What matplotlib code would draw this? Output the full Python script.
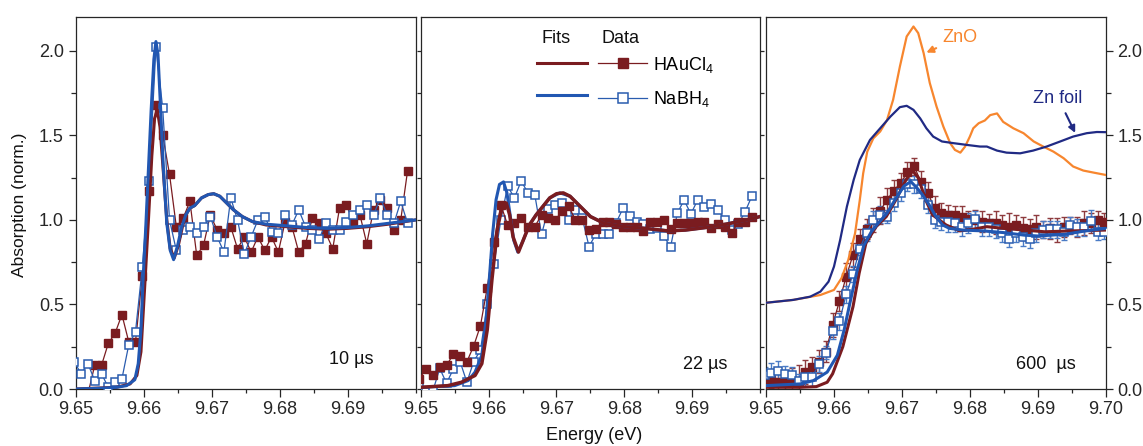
import matplotlib
matplotlib.use("Agg")
import matplotlib.pyplot as plt
from matplotlib.lines import Line2D
from matplotlib.ticker import MultipleLocator

plt.rcParams['font.family'] = ['Liberation Sans', 'DejaVu Sans']
plt.rcParams['mathtext.fontset'] = 'custom'
plt.rcParams['mathtext.rm'] = 'Liberation Sans'
plt.rcParams['mathtext.it'] = 'Liberation Sans:italic'

RED = '#7a1c20'
BLUE = '#2a5caf'
BLUE_FIT = '#2157b2'
ORANGE = '#f7862e'
NAVY = '#202a84'
INK = '#262626'

# energy grid of the measured points (eV)
energy = [9.6498, 9.6508, 9.6518, 9.6528, 9.6538, 9.6548, 9.6558, 9.6568, 9.6578, 9.6588,
          9.6598, 9.6608, 9.6618, 9.6628, 9.6638, 9.6648, 9.6658, 9.6668, 9.6678, 9.6688,
          9.6698, 9.6708, 9.6718, 9.6728, 9.6738, 9.6748, 9.6758, 9.6768, 9.6778, 9.6788,
          9.6798, 9.6808, 9.6818, 9.6828, 9.6838, 9.6848, 9.6858, 9.6868, 9.6878, 9.6888,
          9.6898, 9.6908, 9.6918, 9.6928, 9.6938, 9.6948, 9.6958, 9.6968, 9.6978, 9.6988,
          9.6998]

# ---- 10 us ----
d10_hau = [-0.03, 0.14, 0.14, 0.27, 0.33, 0.44, 0.28, 0.28, 0.67, 1.17,
           1.68, 1.50, 1.27, 0.96, 1.01, 1.11, 0.79, 0.85, 1.03, 0.94,
           0.92, 0.96, 0.83, 0.90, 0.81, 0.90, 0.82, 0.90, 0.81, 0.99,
           0.96, 0.81, 0.86, 1.01, 0.98, 0.92, 0.83, 1.07, 1.09, 0.99,
           1.03, 0.86, 1.06, 1.12, 1.07, 0.94, 1.00, 1.29]          # starts at energy[2]
d10_nab = [0.16, 0.09, 0.15, 0.05, 0.09, 0.01, 0.04, 0.06, 0.26, 0.34,
           0.72, 1.23, 2.02, 1.66, 1.00, 0.82, 0.94, 0.96, 0.92, 0.96,
           1.02, 0.90, 0.81, 1.13, 1.00, 0.80, 0.90, 1.00, 1.02, 0.93,
           0.92, 1.03, 0.97, 1.06, 0.96, 0.94, 0.89, 0.98, 0.94, 0.94,
           0.99, 1.03, 1.06, 1.09, 1.03, 1.13, 1.03, 0.98, 1.11, 0.98]

f10_nab_x = [9.6500, 9.6540, 9.6560, 9.6575, 9.6587, 9.6592, 9.6596, 9.6599, 9.6603, 9.6607,
             9.6611, 9.6615, 9.6618, 9.6621, 9.6625, 9.6629, 9.6634, 9.6639, 9.6644, 9.6650,
             9.6656, 9.6662, 9.6668, 9.6675, 9.6685, 9.6695, 9.6703, 9.6712, 9.6722, 9.6732,
             9.6745, 9.6760, 9.6780, 9.6810, 9.6840, 9.6870, 9.6900, 9.6930, 9.6960, 9.7000]
f10_nab_y = [0.0, 0.005, 0.01, 0.02, 0.055, 0.15, 0.35, 0.64, 0.95, 1.30,
             1.65, 1.95, 2.055, 1.98, 1.65, 1.30, 0.98, 0.82, 0.765, 0.85,
             0.96, 1.03, 1.07, 1.085, 1.13, 1.15, 1.155, 1.14, 1.10, 1.06,
             1.02, 0.99, 0.975, 0.965, 0.955, 0.95, 0.955, 0.965, 0.98, 1.00]
f10_hau_x = [9.6500, 9.6560, 9.6580, 9.6590, 9.6596, 9.6602, 9.6607, 9.6612, 9.6616, 9.6620,
             9.6624, 9.6629, 9.6634, 9.6639, 9.6645, 9.6651, 9.6657, 9.6662, 9.6668, 9.6675,
             9.6685, 9.6695, 9.6703, 9.6712, 9.6722, 9.6732, 9.6745, 9.6760, 9.6780, 9.6810,
             9.6840, 9.6870, 9.6900, 9.6930, 9.6960, 9.7000]
f10_hau_y = [0.0, 0.01, 0.03, 0.08, 0.22, 0.64, 1.00, 1.38, 1.60, 1.65,
             1.55, 1.28, 1.00, 0.83, 0.775, 0.85, 0.96, 1.03, 1.07, 1.085,
             1.13, 1.15, 1.155, 1.14, 1.10, 1.06, 1.02, 0.99, 0.97, 0.96,
             0.95, 0.945, 0.95, 0.96, 0.975, 1.00]

# ---- 22 us ----
d22_hau = [0.06, 0.12, 0.08, 0.13, 0.14, 0.205, 0.197, 0.162, 0.254, 0.375,
           0.60, 0.87, 1.09, 0.97, 0.98, 1.01, 0.96, 0.96, 1.03, 1.01,
           1.00, 1.05, 1.08, 1.00, 1.00, 0.94, 0.945, 0.985, 0.985, 0.975,
           0.96, 0.96, 0.96, 0.937, 0.985, 0.985, 1.00, 0.945, 0.98, 0.98,
           0.98, 0.99, 0.99, 0.955, 0.975, 0.96, 0.92, 0.99, 0.99, 1.02]
d22_nab = [0.01, -0.02, -0.01, 0.122, 0.034, 0.118, 0.162, 0.04, 0.162, 0.23,
           0.50, 0.74, 1.00, 1.20, 1.13, 1.23, 1.16, 1.15, 0.915, 1.065,
           1.09, 1.10, 1.00, 1.06, 1.01, 0.842, 0.917, 0.917, 0.917, 0.984,
           1.069, 1.024, 0.99, 0.976, 0.945, 0.954, 0.907, 0.838, 1.039, 1.118,
           1.035, 1.118, 1.075, 1.093, 1.059, 1.00, 0.941, 0.976, 1.049, 1.142]

f22_nab_x = [9.6500, 9.6550, 9.6570, 9.6580, 9.6590, 9.6596, 9.6601, 9.6606, 9.6611, 9.6616,
             9.6622, 9.6627, 9.6632, 9.6637, 9.6643, 9.6650, 9.6660, 9.6670, 9.6680, 9.6690,
             9.6705, 9.6720, 9.6735, 9.6750, 9.6770, 9.6800, 9.6830, 9.6865, 9.6890, 9.6920,
             9.6950, 9.6980, 9.7000]
f22_nab_y = [0.01, 0.02, 0.05, 0.10, 0.20, 0.40, 0.65, 0.92, 1.12, 1.21,
             1.225, 1.16, 1.02, 0.88, 0.81, 0.87, 0.97, 1.03, 1.08, 1.13,
             1.16, 1.14, 1.08, 1.02, 0.98, 0.96, 0.95, 0.935, 0.94, 0.955,
             0.975, 1.00, 1.02]
f22_hau_x = [9.6500, 9.6540, 9.6560, 9.6580, 9.6590, 9.6598, 9.6605, 9.6613, 9.6620, 9.6626,
             9.6631, 9.6636, 9.6644, 9.6650, 9.6660, 9.6670, 9.6680, 9.6690, 9.6700, 9.6710,
             9.6720, 9.6735, 9.6750, 9.6770, 9.6800, 9.6830, 9.6865, 9.6890, 9.6920, 9.6950,
             9.6980, 9.7000]
f22_hau_y = [0.01, 0.02, 0.04, 0.08, 0.15, 0.35, 0.65, 0.95, 1.08, 1.10,
             1.03, 0.90, 0.81, 0.87, 0.97, 1.03, 1.08, 1.13, 1.155, 1.16,
             1.14, 1.08, 1.02, 0.98, 0.96, 0.95, 0.935, 0.94, 0.955, 0.975,
             1.00, 1.02]

# ---- 600 us ----
d600_hau = [0.04, 0.053, 0.04, 0.043, 0.047, 0.05, 0.10, 0.132, 0.162, 0.221,
            0.379, 0.52, 0.665, 0.793, 0.886, 0.945, 1.00, 1.055, 1.118, 1.174,
            1.217, 1.282, 1.316, 1.227, 1.162, 1.069, 1.04, 1.03, 1.03, 1.02,
            1.004, 1.00, 0.99, 0.984, 0.984, 0.97, 0.96, 0.97, 0.95, 0.945,
            0.96, 0.941, 0.95, 0.941, 0.96, 0.965, 0.96, 0.98, 0.98, 1.00,
            0.99]
d600_hau_err = [0.06, 0.05, 0.06, 0.05, 0.08, 0.09, 0.07, 0.06, 0.07, 0.06,
                0.07, 0.06, 0.08, 0.07, 0.06, 0.06, 0.07, 0.08, 0.07, 0.06,
                0.06, 0.06, 0.05, 0.06, 0.06, 0.07, 0.06, 0.06, 0.05, 0.06,
                0.05, 0.06, 0.06, 0.05, 0.07, 0.06, 0.08, 0.06, 0.07, 0.06,
                0.07, 0.05, 0.06, 0.07, 0.06, 0.05, 0.06, 0.07, 0.06, 0.05,
                0.05]
d600_nab = [0.08, 0.093, 0.107, 0.087, 0.083, 0.05, 0.07, 0.07, 0.148, 0.215,
            0.345, 0.40, 0.56, 0.68, 0.83, 0.925, 1.00, 1.03, 1.02, 1.10,
            1.16, 1.21, 1.21, 1.18, 1.09, 1.00, 0.99, 0.99, 0.98, 0.957,
            0.98, 1.004, 0.957, 0.957, 0.945, 0.921, 0.89, 0.921, 0.897, 0.886,
            0.921, 0.941, 0.945, 0.945, 0.93, 0.97, 0.957, 0.957, 0.996, 0.93,
            0.93]
d600_nab_err = [0.05, 0.06, 0.06, 0.05, 0.05, 0.04, 0.05, 0.05, 0.05, 0.04,
                0.05, 0.05, 0.05, 0.05, 0.04, 0.05, 0.05, 0.05, 0.04, 0.05,
                0.05, 0.04, 0.05, 0.05, 0.05, 0.05, 0.05, 0.06, 0.05, 0.05,
                0.06, 0.05, 0.05, 0.05, 0.05, 0.05, 0.05, 0.05, 0.05, 0.05,
                0.05, 0.05, 0.05, 0.05, 0.05, 0.05, 0.05, 0.05, 0.06, 0.05,
                0.04]

f600_nab_x = [9.6500, 9.6550, 9.6570, 9.6590, 9.6605, 9.6615, 9.6623, 9.6634, 9.6644, 9.6655,
              9.6665, 9.6678, 9.6690, 9.6703, 9.6713, 9.6722, 9.6730, 9.6740, 9.6750, 9.6760,
              9.6770, 9.6790, 9.6820, 9.6850, 9.6880, 9.6900, 9.6940, 9.6970, 9.7000]
f600_nab_y = [0.02, 0.03, 0.05, 0.10, 0.20, 0.35, 0.50, 0.70, 0.85, 0.93,
              0.98, 1.04, 1.12, 1.20, 1.227, 1.19, 1.15, 1.09, 1.02, 0.97,
              0.95, 0.94, 0.935, 0.925, 0.91, 0.905, 0.915, 0.935, 0.95]
f600_hau_x = [9.6500, 9.6550, 9.6574, 9.6590, 9.6598, 9.6613, 9.6628, 9.6637, 9.6647, 9.6662,
              9.6677, 9.6691, 9.6706, 9.6716, 9.6724, 9.6735, 9.6745, 9.6765, 9.6785, 9.6805,
              9.6825, 9.6850, 9.6880, 9.6910, 9.6950, 9.7000]
f600_hau_y = [0.01, 0.01, 0.014, 0.04, 0.09, 0.25, 0.487, 0.684, 0.862, 0.96,
              1.02, 1.118, 1.237, 1.29, 1.25, 1.118, 1.03, 0.97, 0.935, 0.945,
              0.96, 0.95, 0.94, 0.93, 0.935, 0.94]

zno_x = [9.6500, 9.6540, 9.6580, 9.6600, 9.6611, 9.6621, 9.6631, 9.6638, 9.6643, 9.6649,
         9.6658, 9.6668, 9.6678, 9.6687, 9.6697, 9.6707, 9.6717, 9.6724, 9.6732, 9.6741,
         9.6751, 9.6761, 9.6771, 9.6778, 9.6786, 9.6793, 9.6800, 9.6805, 9.6813, 9.6822,
         9.6830, 9.6840, 9.6849, 9.6864, 9.6879, 9.6894, 9.6908, 9.6923, 9.6938, 9.6952,
         9.6967, 9.6982, 9.7000]
zno_y = [0.51, 0.527, 0.556, 0.586, 0.655, 0.763, 0.92, 1.118, 1.276, 1.404,
         1.483, 1.523, 1.59, 1.71, 1.907, 2.085, 2.144, 2.105, 1.986, 1.81,
         1.67, 1.552, 1.454, 1.414, 1.398, 1.434, 1.493, 1.542, 1.572, 1.588,
         1.62, 1.63, 1.58, 1.542, 1.513, 1.464, 1.434, 1.404, 1.365, 1.316,
         1.292, 1.28, 1.266]
znfoil_x = [9.6500, 9.6540, 9.6565, 9.6580, 9.6592, 9.6600, 9.6609, 9.6619, 9.6629, 9.6638,
            9.6653, 9.6668, 9.6683, 9.6697, 9.6707, 9.6717, 9.6727, 9.6736, 9.6746, 9.6759,
            9.6776, 9.6795, 9.6815, 9.6825, 9.6840, 9.6854, 9.6874, 9.6893, 9.6913, 9.6933,
            9.6952, 9.6972, 9.6987, 9.7000]
znfoil_y = [0.51, 0.527, 0.546, 0.576, 0.635, 0.724, 0.88, 1.079, 1.237, 1.355,
            1.473, 1.542, 1.611, 1.667, 1.675, 1.651, 1.60, 1.542, 1.493, 1.464,
            1.454, 1.444, 1.434, 1.434, 1.41, 1.398, 1.394, 1.41, 1.434, 1.464,
            1.493, 1.513, 1.52, 1.519]

FS = 13

fig = plt.figure(figsize=(11.43, 4.46), dpi=100)
ax1 = fig.add_axes([0.0662, 0.1278, 0.2975, 0.834])
ax2 = fig.add_axes([0.3681, 0.1278, 0.2969, 0.834])
ax3 = fig.add_axes([0.6702, 0.1278, 0.2972, 0.834])

for ax in (ax1, ax2, ax3):
    ax.set_xlim(9.65, 9.70)
    ax.set_ylim(0, 2.2)
    ax.xaxis.set_major_locator(MultipleLocator(0.01))
    ax.xaxis.set_minor_locator(MultipleLocator(0.005))
    ax.yaxis.set_major_locator(MultipleLocator(0.5))
    ax.yaxis.set_minor_locator(MultipleLocator(0.25))
    ax.xaxis.set_major_formatter(plt.FormatStrFormatter('%.2f'))
    ax.yaxis.set_major_formatter(plt.FormatStrFormatter('%.1f'))
    for sp in ax.spines.values():
        sp.set_color(INK)
        sp.set_linewidth(0.9)
    ax.tick_params(axis='x', which='major', direction='out', length=5.5, width=0.9,
                   colors=INK, labelsize=FS, top=False, pad=3)
    ax.tick_params(axis='x', which='minor', direction='out', length=3, width=0.9,
                   colors=INK, top=False)

# y ticks per panel
ax1.tick_params(axis='y', which='major', direction='out', length=5, width=0.9,
                colors=INK, labelsize=FS, left=True, right=False)
ax1.tick_params(axis='y', which='minor', direction='out', length=3.4, width=0.9,
                colors=INK, left=True, right=False)
ax2.tick_params(axis='y', which='both', direction='out', length=2.6, width=0.9,
                colors=INK, left=True, right=True, labelleft=False)
ax3.tick_params(axis='y', which='major', direction='out', length=5, width=0.9,
                colors=INK, labelsize=FS, left=False, right=True, labelleft=False,
                labelright=True)
ax3.tick_params(axis='y', which='minor', direction='out', length=3.4, width=0.9,
                colors=INK, left=False, right=True)

# hide the 9.70 label on the first two panels
for ax in (ax1, ax2):
    ax.set_xticks([9.65, 9.66, 9.67, 9.68, 9.69])

e50 = energy[:50]

# panel 1
ax1.plot(energy[2:50], d10_hau, color=RED, lw=0.9, marker='s', ms=5.8,
         mfc=RED, mec=RED, zorder=3)
ax1.plot(e50, d10_nab, color=BLUE, lw=0.9, marker='s', ms=5.8,
         mfc='white', mec=BLUE, mew=1.1, zorder=4)
ax1.plot(f10_hau_x, f10_hau_y, color=RED, lw=2.2, zorder=5)
ax1.plot(f10_nab_x, f10_nab_y, color=BLUE_FIT, lw=2.2, zorder=6)
ax1.text(0.81, 0.078, '10 µs', transform=ax1.transAxes, ha='center', va='center',
         fontsize=FS, color='#111111')

# panel 2
ax2.plot(e50, d22_nab, color=BLUE, lw=0.9, marker='s', ms=5.8,
         mfc='white', mec=BLUE, mew=1.1, zorder=3)
ax2.plot(e50, d22_hau, color=RED, lw=0.9, marker='s', ms=5.8,
         mfc=RED, mec=RED, zorder=4)
ax2.plot(f22_nab_x, f22_nab_y, color=BLUE_FIT, lw=2.2, zorder=5)
ax2.plot(f22_hau_x, f22_hau_y, color=RED, lw=2.5, zorder=6)
ax2.text(0.838, 0.067, '22 µs', transform=ax2.transAxes, ha='center', va='center',
         fontsize=FS, color='#111111')

handles = [Line2D([], [], color=RED, lw=2.2),
           Line2D([], [], color=BLUE_FIT, lw=2.2),
           Line2D([], [], color=RED, lw=0.9, marker='s', ms=6.5, mfc=RED, mec=RED),
           Line2D([], [], color=BLUE, lw=0.9, marker='s', ms=6.5, mfc='white',
                  mec=BLUE, mew=1.1)]
labels = ['', '', r'HAuCl$_\mathregular{4}$', r'NaBH$_\mathregular{4}$']
ax2.legend(handles, labels, ncol=2, loc='upper left', bbox_to_anchor=(0.343, 0.899),
           frameon=False, fontsize=FS, handlelength=2.75, handletextpad=0.33,
           columnspacing=0.28, labelspacing=0.82, borderpad=0, borderaxespad=0,
           numpoints=1)
ax2.text(0.399, 0.941, 'Fits', transform=ax2.transAxes, ha='center', va='center',
         fontsize=FS, color='#111111')
ax2.text(0.590, 0.941, 'Data', transform=ax2.transAxes, ha='center', va='center',
         fontsize=FS, color='#111111')

# panel 3
ax3.plot(zno_x, zno_y, color=ORANGE, lw=1.6, zorder=6)
ax3.plot(znfoil_x, znfoil_y, color=NAVY, lw=1.6, zorder=6)
ax3.errorbar(energy, d600_hau, yerr=d600_hau_err, fmt='none', ecolor='#8e3b3e',
             elinewidth=1.0, capsize=2.4, capthick=1.0, zorder=2)
ax3.errorbar(energy, d600_nab, yerr=d600_nab_err, fmt='none', ecolor='#4a7bc6',
             elinewidth=1.0, capsize=2.4, capthick=1.0, zorder=2)
ax3.plot(energy, d600_hau, color=RED, lw=0.9, marker='s', ms=5.8,
         mfc=RED, mec=RED, zorder=3)
ax3.plot(energy, d600_nab, color=BLUE, lw=0.9, marker='s', ms=5.8,
         mfc='white', mec=BLUE, mew=1.1, zorder=4)
ax3.plot(f600_hau_x, f600_hau_y, color=RED, lw=2.2, zorder=5)
ax3.plot(f600_nab_x, f600_nab_y, color=BLUE_FIT, lw=2.2, zorder=5)
ax3.text(0.824, 0.065, '600  µs', transform=ax3.transAxes, ha='center', va='center',
         fontsize=FS, color='#111111')

ax3.annotate('ZnO', xy=(9.6736, 1.99), xytext=(9.6786, 2.08), color=ORANGE,
             fontsize=FS, ha='center', va='center',
             arrowprops=dict(arrowstyle='-|>', color=ORANGE, lw=1.5,
                             mutation_scale=10, shrinkA=3, shrinkB=0))
ax3.annotate('Zn foil', xy=(9.6955, 1.515), xytext=(9.6930, 1.72), color=NAVY,
             fontsize=FS, ha='center', va='center',
             arrowprops=dict(arrowstyle='-|>', color=NAVY, lw=1.5,
                             mutation_scale=10, shrinkA=3, shrinkB=0))

fig.text(19.5 / 1143, 1 - 205 / 446, 'Absorption (norm.)', rotation=90,
         ha='center', va='center', fontsize=12.5, color='#111111')
fig.text(594 / 1143, 1 - 436 / 446, 'Energy (eV)', ha='center', va='center',
         fontsize=FS, color='#111111')

fig.savefig('out.png', dpi=100)
